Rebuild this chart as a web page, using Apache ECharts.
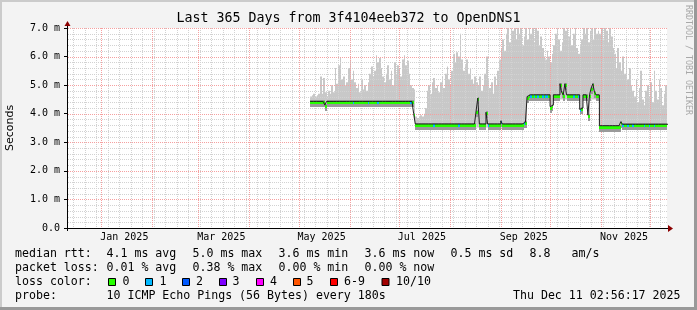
<!DOCTYPE html>
<html><head><meta charset="utf-8">
<script src="https://cdn.jsdelivr.net/npm/echarts@6/dist/echarts.min.js"></script>
<style>html,body{margin:0;padding:0;background:#f3f3f3}#c{width:697px;height:310px}</style>
</head><body><div id="c"></div>
<script>
const DAY = 86400000;
const axisStart = Date.UTC(2024, 11, 11, 2, 56, 17);
const axisEnd = Date.UTC(2025, 11, 11, 2, 56, 17);
const firstDay = [2025, 4, 8]; // 2025-05-08, one value per day after that

// month grid lines (y, m) and two-monthly labels
const monthGrid = [[2025,0],[2025,1],[2025,2],[2025,3],[2025,4],[2025,5],[2025,6],[2025,7],[2025,8],[2025,9],[2025,10],[2025,11]];
const xLabelDays = [[2025,0,15],[2025,2,15],[2025,4,15],[2025,6,15],[2025,8,15],[2025,10,15]];
const xLabels = ['Jan 2025','Mar 2025','May 2025','Jul 2025','Sep 2025','Nov 2025'];
const yTickValues = [0,1,2,3,4,5,6,7];
const yTickLabels = ['0.0','1.0 m','2.0 m','3.0 m','4.0 m','5.0 m','6.0 m','7.0 m'];

// median rtt (ms), one per day
const median = [
4.43,4.43,4.43,4.43,4.43,4.43,4.43,4.43,4.43,4.3,
4.43,4.43,4.43,4.43,4.43,4.43,4.43,4.43,4.43,4.43,
4.43,4.43,4.43,4.43,4.43,4.43,4.43,4.43,4.43,4.43,
4.43,4.43,4.43,4.43,4.43,4.43,4.43,4.43,4.43,4.43,
4.43,4.43,4.43,4.43,4.43,4.43,4.43,4.43,4.43,4.43,
4.43,4.43,4.43,4.43,4.43,4.43,4.43,4.43,4.43,4.43,
4.43,4.43,4.45,4.0,
3.64,3.64,3.64,3.64,3.64,3.64,
3.64,3.64,3.64,3.64,3.64,3.64,3.64,3.64,3.64,3.64,
3.64,3.64,3.64,3.64,3.64,3.64,3.64,3.64,3.64,3.64,
3.64,3.64,3.64,3.64,3.64,3.64,3.64,3.64,3.64,3.64,
3.64,4.1,4.55,3.64,3.64,3.64,3.64,4.05,3.64,3.64,
3.64,3.64,3.64,3.64,3.64,3.64,3.75,3.64,3.64,3.64,
3.64,3.64,3.64,3.64,3.64,3.64,3.64,3.64,3.64,3.64,
3.7,3.7,
4.6,4.66,4.66,4.66,4.66,4.66,4.66,4.66,
4.66,4.66,4.66,4.66,4.66,4.66,4.25,4.3,4.66,4.66,
4.66,4.66,5.05,4.75,4.66,5.05,4.66,4.66,4.66,4.66,
4.66,4.66,4.66,4.66,4.15,4.2,4.66,4.66,4.66,3.95,
4.66,4.9,5.05,4.75,4.66,4.66,
3.58,3.58,3.58,3.58,
3.58,3.58,3.58,3.58,3.58,3.58,3.58,3.58,3.58,3.72,
3.63,3.63,3.63,3.63,3.63,3.63,3.63,3.63,3.63,3.63,
3.63,3.63,3.63,3.63,3.63,3.63,3.63,3.63,3.63,3.63,
3.63,3.63,3.63,3.63,3.63,3.63,3.63,3.63
];
// smoke: lowest and highest ping of each day (ms)
const smokeLow = [
4.33,4.33,4.33,4.33,4.33,4.33,4.33,4.33,4.33,4.2,
4.33,4.33,4.33,4.33,4.33,4.33,4.33,4.33,4.33,4.33,
4.33,4.33,4.33,4.33,4.33,4.33,4.33,4.33,4.33,4.33,
4.33,4.33,4.33,4.33,4.33,4.33,4.33,4.33,4.33,4.33,
4.33,4.33,4.33,4.33,4.33,4.33,4.33,4.33,4.33,4.33,
4.33,4.33,4.33,4.33,4.33,4.33,4.33,4.33,4.33,4.33,
4.33,4.33,4.3,3.9,
3.5,3.52,3.52,3.52,3.52,3.52,
3.52,3.52,3.52,3.52,3.52,3.52,3.52,3.52,3.52,3.52,
3.52,3.52,3.52,3.52,3.52,3.52,3.52,3.52,3.52,3.52,
3.52,3.52,3.52,3.52,3.52,3.52,3.52,3.52,3.52,3.52,
3.52,3.52,3.52,3.52,3.52,3.52,3.52,3.52,3.52,3.52,
3.52,3.52,3.52,3.52,3.52,3.52,3.52,3.52,3.52,3.52,
3.52,3.52,3.52,3.52,3.52,3.52,3.52,3.52,3.52,3.52,
3.52,3.52,
4.45,4.5,4.5,4.5,4.5,4.5,4.5,4.5,
4.5,4.5,4.5,4.5,4.5,4.5,4.15,4.2,4.5,4.5,
4.5,4.5,4.5,4.5,4.5,4.5,4.5,4.5,4.5,4.5,
4.5,4.5,4.5,4.5,4.05,4.1,4.5,4.5,4.5,3.85,
4.5,4.5,4.5,4.5,4.5,4.5,
3.48,3.48,3.48,3.48,
3.48,3.48,3.48,3.48,3.48,3.48,3.48,3.48,3.48,3.5,
3.48,3.48,3.48,3.48,3.48,3.48,3.48,3.48,3.48,3.48,
3.48,3.48,3.48,3.48,3.48,3.48,3.48,3.48,3.48,3.48,
3.48,3.48,3.48,3.48,3.48,3.48,3.48,3.48
];
const smokeHigh = [
4.6,4.65,4.7,4.6,4.65,4.7,5.3,4.7,5.25,4.75,
4.6,4.8,4.7,5.0,4.75,5.6,5.05,5.7,5.95,5.2,
5.3,5.0,5.1,5.6,5.9,5.2,5.5,5.1,4.9,5.05,
4.75,5.2,4.85,5.0,4.8,5.1,5.4,5.65,5.3,5.5,
6.05,5.8,5.95,5.6,5.3,5.1,5.4,5.7,5.2,5.5,
5.0,5.8,5.4,5.7,5.6,5.3,5.9,6.05,5.7,5.85,
5.4,5.0,4.9,4.85,
3.9,3.85,3.9,3.95,3.9,4.0,4.2,
4.8,5.0,4.7,5.1,5.25,4.9,5.0,4.75,5.1,
5.3,4.9,5.4,5.65,5.2,5.0,5.5,
6.1,5.8,6.15,6.0,6.8,
5.9,5.5,5.7,5.9,5.4,5.6,
5.2,5.05,5.3,5.1,5.0,5.3,
4.8,5.0,5.4,6.0,5.2,4.9,5.1,4.7,5.3,5.0,5.5,5.9,
6.3,6.6,6.2,6.8,7.0,6.5,7.0,6.9,7.0,6.6,7.0,6.8,7.0,6.4,6.7,7.0,
6.6,7.0,6.8,7.0,6.5,7.0,6.9,6.4,
6.7,6.3,6.0,5.9,6.2,6.0,5.8,6.1,
6.4,6.8,7.0,6.6,6.2,6.5,7.0,6.9,
7.0,6.7,7.0,6.4,6.8,7.0,6.3,6.1,
6.4,6.6,7.0,6.8,7.0,6.5,6.9,7.0,
6.6,7.0,6.8,6.9,
6.8,7.0,6.6,7.0,6.9,6.5,7.0,6.7,6.3,
6.1,5.6,6.3,5.8,5.5,6.0,5.4,5.9,5.2,5.6,5.0,4.8,
4.6,5.2,4.4,4.9,5.5,4.5,4.3,4.8,5.0,
4.6,5.1,4.4,5.5,4.8,4.5,5.2,4.9,4.3,4.7,5.0,4.6
];
// days (index into the arrays above) where 1 of 10 pings was lost
const lossOneDays = [26,35,41,61,75,90,108,116,130,134,136,138,141,143,144,160,163,164,190,193,196,203,206,209];

const lossNames = ['0','1','2','3','4','5','6-9','10/10'];
const lossColors = ['#26ff00','#00b8ff','#0059ff','#7e00ff','#ff00ff','#ff5500','#ff0000','#a10000'];

const statLines = [
  ['median rtt:','4.1 ms avg','5.0 ms max','3.6 ms min','3.6 ms now','0.5 ms sd','8.8','am/s'],
  ['packet loss:','0.01 % avg','0.38 % max','0.00 % min','0.00 % now'],
  ['loss color:'],
  ['probe:','10 ICMP Echo Pings (56 Bytes) every 180s']
];
const stamp = 'Thu Dec 11 02:56:17 2025';
const titleText = 'Last 365 Days from 3f4104eeb372 to OpenDNS1';

// ---------- build ----------
const t0 = Date.UTC(firstDay[0], firstDay[1], firstDay[2]);
const days = median.map((_, i) => t0 + i * DAY);
const smokeData = days.map((t, i) => [t, smokeLow[i], smokeHigh[i]]);
const medData = days.map((t, i) => [t, median[i], lossOneDays.indexOf(i) >= 0 ? 1 : 0]);
const medLine = days.map((t, i) => [t, median[i]]);
medLine.push([days[days.length - 1] + DAY, median[median.length - 1]]);

const monthVals = monthGrid.map(m => Date.UTC(m[0], m[1], 1));
const labelVals = xLabelDays.map(d => Date.UTC(d[0], d[1], d[2]));
const weekVals = [];
for (let t = Date.UTC(2024, 11, 15); t < axisEnd; t += 7 * DAY) weekVals.push(t);
const yMinorVals = [];
for (let k = 1; k < 35; k++) if (k % 5) yMinorVals.push(k / 5);

const MONO = '"DejaVu Sans Mono", monospace';
const MAJOR = '#f5a0a0', MINOR = '#d2d2d2';

function vLine(color) {
  return function (params, api) {
    const t = api.value(0);
    const p = api.coord([t, 7]), q = api.coord([t, 0]);
    const x = Math.round(p[0]) + 0.5;
    return { type: 'line', shape: { x1: x, y1: Math.round(p[1]), x2: x, y2: Math.round(q[1]) },
      style: { stroke: color, lineWidth: 1, lineDash: [1, 1] } };
  };
}
function hLine(color) {
  return function (params, api) {
    const v = api.value(1);
    const p = api.coord([axisStart, v]), q = api.coord([axisEnd, v]);
    const y = Math.round(p[1]) + 0.5;
    return { type: 'line', shape: { x1: Math.round(p[0]) + 1, y1: y, x2: Math.round(q[0]), y2: y },
      style: { stroke: color, lineWidth: 1, lineDash: [1, 1] } };
  };
}
function renderSmoke(params, api) {
  const t = api.value(0);
  const a = api.coord([t, api.value(2)]);
  const b = api.coord([t + DAY, api.value(1)]);
  const x0 = Math.round(a[0]), x1 = Math.round(b[0]);
  return { type: 'rect', shape: { x: x0, y: a[1], width: Math.max(1, x1 - x0), height: b[1] - a[1] },
    style: { fill: '#c8c8c8' } };
}
function renderMedian(params, api) {
  const t = api.value(0), m = api.value(1), loss = api.value(2);
  const a = api.coord([t, m]), b = api.coord([t + DAY, m]);
  const x0 = Math.round(a[0]), x1 = Math.round(b[0]), y = Math.round(a[1]);
  const w = Math.max(1, x1 - x0);
  return { type: 'group', children: [
    { type: 'rect', shape: { x: x0, y: y - 1, width: w, height: 7 }, style: { fill: '#9a9a9a' } },
    { type: 'rect', shape: { x: x0, y: y, width: w, height: 3 }, style: { fill: lossColors[loss] } }
  ] };
}

const graphics = [];
graphics.push({ type: 'rect', shape: { x: 0, y: 0, width: 697, height: 2 }, style: { fill: '#cbcbcb' }, silent: true });
graphics.push({ type: 'rect', shape: { x: 0, y: 0, width: 2, height: 310 }, style: { fill: '#cbcbcb' }, silent: true });
graphics.push({ type: 'rect', shape: { x: 0, y: 307, width: 697, height: 3 }, style: { fill: '#999999' }, silent: true });
graphics.push({ type: 'rect', shape: { x: 694, y: 0, width: 3, height: 310 }, style: { fill: '#999999' }, silent: true });
graphics.push({ type: 'text', x: 348.5, y: 18.5, style: { text: titleText, align: 'center', verticalAlign: 'middle', font: '13.3px ' + MONO, fill: '#000' } });
graphics.push({ type: 'text', x: 688, y: 5, rotation: -Math.PI / 2, style: { text: 'RRDTOOL / TOBI OETIKER', align: 'left', verticalAlign: 'middle', font: '8.3px ' + MONO, fill: '#a8a8a8' } });
graphics.push({ type: 'polygon', shape: { points: [[64.5, 26], [67.5, 21], [70.5, 26]] }, style: { fill: '#8b0000' }, z: 10 });
graphics.push({ type: 'polygon', shape: { points: [[668, 225], [673, 228.5], [668, 232]] }, style: { fill: '#8b0000' }, z: 10 });
graphics.push({ type: 'line', shape: { x1: 67.5, y1: 26, x2: 67.5, y2: 28 }, style: { stroke: '#000', lineWidth: 1 }, z: 10 });
graphics.push({ type: 'line', shape: { x1: 667, y1: 228.5, x2: 668, y2: 228.5 }, style: { stroke: '#000', lineWidth: 1 }, z: 10 });
graphics.push({ type: 'line', shape: { x1: 64, y1: 228.5, x2: 67, y2: 228.5 }, style: { stroke: '#000', lineWidth: 1 }, z: 10 });
graphics.push({ type: 'line', shape: { x1: 67.5, y1: 228, x2: 67.5, y2: 231 }, style: { stroke: '#000', lineWidth: 1 }, z: 10 });
const statX = [[15, 106.5, 192.5, 278.5, 364.5, 450.5, 529.5, 571.5], [15, 106.5, 192.5, 278.5, 364.5], [15], [15, 106.5]];
const statY = [253.7, 267.7, 281.7, 295.7];
statLines.forEach((row, r) => row.forEach((s, k) => {
  graphics.push({ type: 'text', x: statX[r][k], y: statY[r], style: { text: s, verticalAlign: 'middle', font: '11.6px ' + MONO, fill: '#000' } });
}));
graphics.push({ type: 'text', x: 680.5, y: statY[3], style: { text: stamp, align: 'right', verticalAlign: 'middle', font: '11.6px ' + MONO, fill: '#000' } });
const boxX = [108, 145, 182, 219, 256, 293, 330, 381.5];
const boxTextX = [122.5, 159.5, 196, 232.5, 270, 306.5, 344, 396];
lossNames.forEach((n, k) => {
  graphics.push({ type: 'rect', shape: { x: boxX[k] + 0.5, y: 278.5, width: 7, height: 7 }, style: { fill: lossColors[k], stroke: '#000', lineWidth: 1 } });
  graphics.push({ type: 'text', x: boxTextX[k], y: statY[2], style: { text: n, verticalAlign: 'middle', font: '11.6px ' + MONO, fill: '#000' } });
});

const chart = echarts.init(document.getElementById('c'));
chart.setOption({
  animation: false,
  backgroundColor: '#f3f3f3',
  grid: { left: 67, top: 28, width: 600, height: 200, show: true, backgroundColor: '#ffffff', borderWidth: 0,
    containLabel: false, outerBoundsMode: 'none' },
  xAxis: { type: 'value', min: axisStart, max: axisEnd, position: 'bottom', z: 6,
    axisLine: { show: true, onZero: false, lineStyle: { color: '#000', width: 1 } },
    axisTick: { show: false },
    axisLabel: { customValues: labelVals, margin: 4, color: '#000', fontFamily: MONO, fontSize: 10,
      formatter: v => { const k = labelVals.findIndex(x => Math.abs(x - v) < DAY); return k >= 0 ? xLabels[k] : ''; } },
    splitLine: { show: false } },
  yAxis: { type: 'value', min: 0, max: 7, interval: 1, z: 6,
    name: 'Seconds', nameLocation: 'middle', nameGap: 51, nameRotate: 90,
    nameTextStyle: { fontFamily: '"DejaVu Sans", sans-serif', fontSize: 11, color: '#000' },
    axisLine: { show: true, lineStyle: { color: '#000', width: 1 } },
    axisTick: { show: true, length: 3, lineStyle: { color: '#000' } },
    axisLabel: { margin: 7, color: '#000', fontFamily: MONO, fontSize: 10,
      formatter: v => { const k = yTickValues.indexOf(v); return k >= 0 ? yTickLabels[k] : ''; } },
    splitLine: { show: false } },
  series: [
    { type: 'custom', z: 1, clip: true, renderItem: renderSmoke, data: smokeData, encode: { x: 0, y: [1, 2] }, silent: true },
    { type: 'custom', z: 2, renderItem: vLine(MINOR), data: weekVals.map(t => [t, 0]), encode: { x: 0, y: 1 }, silent: true },
    { type: 'custom', z: 2, renderItem: hLine(MINOR), data: yMinorVals.map(v => [axisStart, v]), encode: { x: 0, y: 1 }, silent: true },
    { type: 'custom', z: 3, renderItem: vLine(MAJOR), data: monthVals.map(t => [t, 0]), encode: { x: 0, y: 1 }, silent: true },
    { type: 'custom', z: 3, renderItem: hLine(MAJOR), data: yTickValues.slice(1).map(v => [axisStart, v]), encode: { x: 0, y: 1 }, silent: true },
    { type: 'custom', z: 4, clip: true, renderItem: renderMedian, data: medData, encode: { x: 0, y: 1 }, silent: true },
    { type: 'line', z: 5, step: 'end', data: medLine, showSymbol: false, symbol: 'none', clip: true,
      lineStyle: { color: '#202020', width: 1 }, silent: true }
  ],
  graphic: graphics
});
</script></body></html>
